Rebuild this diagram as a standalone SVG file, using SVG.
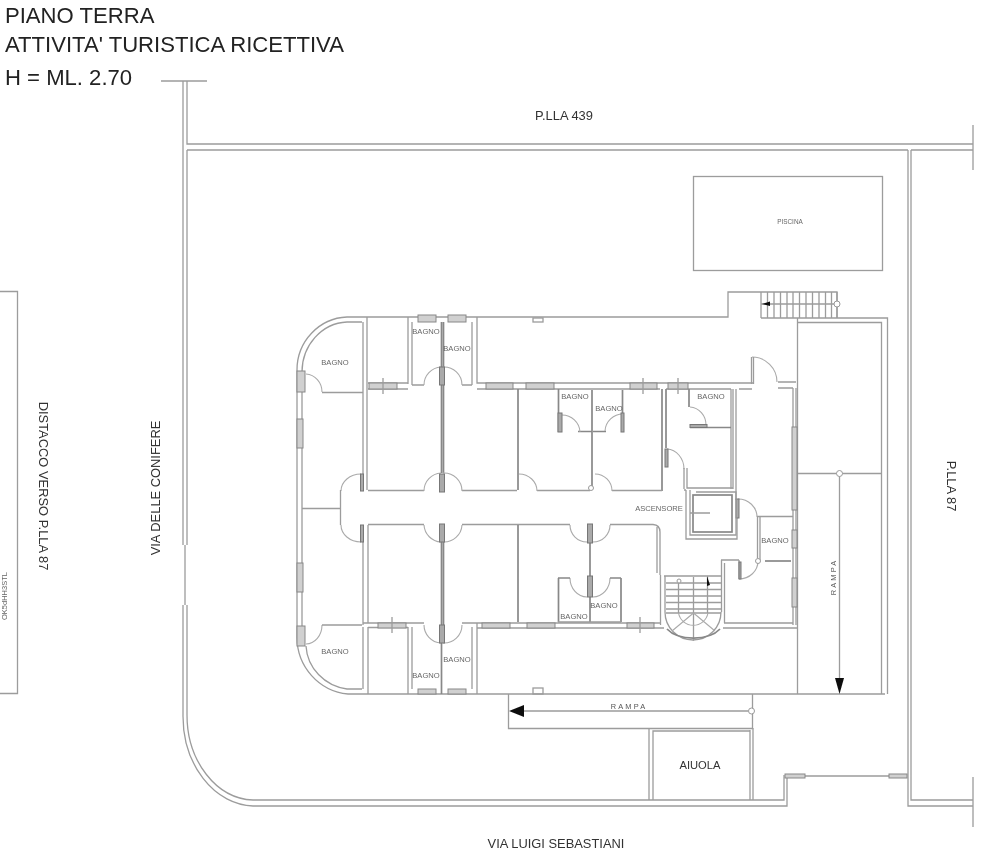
<svg xmlns="http://www.w3.org/2000/svg" width="1000" height="856" viewBox="0 0 1000 856">
<defs>
<filter id="soft" x="-2%" y="-2%" width="104%" height="104%"><feGaussianBlur stdDeviation="0.55"/></filter>
<filter id="softer" x="-2%" y="-2%" width="104%" height="104%"><feGaussianBlur stdDeviation="0.4"/></filter>
</defs>
<style>
text{font-family:"Liberation Sans",Arial,sans-serif;fill:#333}
.t{font-size:22.1px;fill:#222}
.l{font-size:12.9px;fill:#333}
.m{font-size:11.200px;fill:#333}
.s{font-size:7.6px;fill:#666}
.r{font-size:7.4px;fill:#555;letter-spacing:2.2px}
.w{fill:none;stroke:#9c9c9c;stroke-width:1.3}
.d{fill:none;stroke:#888;stroke-width:1.7}
.a{fill:none;stroke:#aaa;stroke-width:1.1}
.win{fill:#d0d0d0;stroke:#888;stroke-width:1}
.th{fill:#aaa;stroke:#777;stroke-width:1}
.c{fill:#fff;stroke:#999;stroke-width:1}
.k{fill:#111;stroke:none}
</style>
<rect width="1000" height="856" fill="#fff"/>
<g id="plan" filter="url(#soft)">
<g id="site">
<path class="w" d="M161 81H207M183 81V545M187 81V144H973M187 150V545M185 545V605M183 605V715A72 90 0 0 0 253 806H787V776H805M187 605V715A68 85 0 0 0 253 800H784V775"/>
<path class="w" d="M187 150H908M911 150H973M973 125V170M908 150V806H973M911 150V800H973M973 777V827M805 776H889"/>
<rect class="win" x="785" y="774" width="20" height="4"/>
<rect class="win" x="889" y="774" width="18" height="4"/>
<rect class="w" x="693.500" y="176.500" width="189" height="94"/>
<path class="w" d="M0 291.500H17.500V693.500H0"/>
</g>
<g id="ramps">
<path class="w" d="M478 694H885M508.500 694V728.500H752.500V694"/>
<path class="w" d="M512 711H748M649 800V729M653 800V731H750M750 730V800M753 728V800"/>
<path class="k" d="M509 711L524 705V717Z"/>
<circle class="c" cx="751.500" cy="711" r="3"/>
<path class="w" d="M797.500 318V694M797 473.500H881M839.500 476V680"/>
<path class="k" d="M839.500 694L835 678H844Z"/>
<circle class="c" cx="839.500" cy="473.500" r="3"/>
</g>
<g id="outer-walls">
<path class="w" d="M297 370A52 53 0 0 1 347 317H728V292H837V318M302 372A47 50 0 0 1 347 322H362"/>
<path class="w" d="M297 370V637M302 372V646M297 637A56 57 0 0 0 348 694H478M306 646A48 46 0 0 0 347 689H362"/>
<path class="w" d="M761 318H887.500V694M797 322.500H881.500V694M367 317V490M363 322V490M322 392.500H363M363 525V625M368 525V623M363 627V689M368 627V694"/>
<rect class="w" x="533" y="318" width="10" height="4"/>
<rect class="w" x="533" y="688" width="10" height="6"/>
</g>
<g id="top-rooms">
<path class="w" d="M408 317V384M412 322V385M368 383H408M368 389H408M472 322V385M477 317V383H753M412 385H424M462 385H472M477 389H660M666 389H691M691 389H731M731 389V489M733 389V489M736 389V500M739 389H752M778 388H793M778 382H796"/>
<path class="d" d="M441.500 322V473M443.500 322V473M518 389V490M558.500 389V432M592 390V490M622.500 390V431M662 389V491M666 389V448M689 389V407M690 427.500H731M578 431.500H592M593 431.500H606"/>
<path class="w" d="M368 490.500H424M462 490.500H517M537 490.500H590M612 490.500H662M687 468V488H733"/>
<path class="a" d="M424 385A18 18 0 0 1 441 367M443 367A18 18 0 0 1 462 385M306 374A17 18 0 0 1 322 392M562 415A18 18 0 0 1 580 432M623 414A18 18 0 0 0 605 431M690 407A17 18 0 0 1 706 425M667 449A18 20 0 0 1 684 469M752 357A25 25 0 0 1 777 382M424 491A18 18 0 0 1 441 473M443 473A18 18 0 0 1 462 491M361 474A20 17 0 0 0 341 491M519 474A18 17 0 0 1 537 491M595 474A17 17 0 0 1 612 491"/>
<path class="w" d="M751.500 357V384M753.500 357V384M684 468V489"/>
</g>
<g id="corridor">
<path class="w" d="M340.500 490V525M302 508.500H340M684 490H686M686 490V539H737V518"/>
<path class="a" d="M341 525A20 17 0 0 0 361 542M424 525A18 18 0 0 0 441 542M443 542A18 18 0 0 0 462 525M570 525A17 17 0 0 0 587 542M593 542A17 17 0 0 0 610 525M738 499A19 18 0 0 1 757 517M758 561A19 18 0 0 1 739 579M570 578A17 19 0 0 0 587 597M593 597A17 19 0 0 0 610 578M424 625A18 18 0 0 0 441 643M443 643A18 18 0 0 0 462 625M322 625A16 19 0 0 1 306 644"/>
</g>
<g id="lower-rooms">
<path class="w" d="M368 524.500H424M462 524.500H570M610 524.500H653Q660 525 660 532V575M657 527V573M368 627.500H408M363 623H424M462 623H660M408 627V694M412 627V689M472 627V689M477 623V694M322 625H362"/>
<path class="d" d="M441.500 542V694M443.500 542V625M518 525V622M590 543V622M558.500 578V622M621 578V622M558 578H570M610 578H621"/>
<path class="w" d="M558 622H621M477 628H664M723 628H797M724 623H793M721.500 560V612M724.500 563V623M721 560H739M739 560V579M757.500 517V558M760 517V560M757 516.500H793M793 388V625M796 388V625"/>
<path class="d" d="M765 561H791"/>
<circle class="c" cx="758" cy="561" r="2.500"/>
<circle class="c" cx="591" cy="488" r="2.500"/>
</g>
<g id="thick-doors">
<rect class="win" x="297" y="371" width="8" height="21"/>
<rect class="win" x="297" y="626" width="8" height="20"/>
<rect class="th" x="439.500" y="367" width="5" height="18"/>
<rect class="th" x="439.500" y="474" width="5" height="18"/>
<rect class="th" x="439.500" y="524" width="5" height="18"/>
<rect class="th" x="439.500" y="625" width="5" height="18"/>
<rect class="th" x="587.500" y="524" width="5" height="19"/>
<rect class="th" x="587.500" y="576" width="5" height="21"/>
<rect class="th" x="360.500" y="474" width="3" height="17"/>
<rect class="th" x="360.500" y="525" width="3" height="17"/>
<rect class="th" x="558" y="413" width="4" height="19"/>
<rect class="th" x="621" y="413" width="3" height="19"/>
<rect class="th" x="665" y="449" width="3" height="18"/>
<rect class="th" x="690" y="424.500" width="17" height="3"/>
<rect class="th" x="736" y="499" width="3" height="19"/>
<rect class="th" x="739" y="562" width="2" height="17"/>
</g>
<g id="windows">
<rect class="win" x="418" y="315" width="18" height="7"/>
<rect class="win" x="448" y="315" width="18" height="7"/>
<rect class="win" x="418" y="689" width="18" height="5"/>
<rect class="win" x="448" y="689" width="18" height="5"/>
<rect class="win" x="297" y="419" width="6" height="29"/>
<rect class="win" x="297" y="563" width="6" height="29"/>
<rect class="win" x="369" y="383" width="28" height="6"/>
<rect class="win" x="486" y="383" width="27" height="6"/>
<rect class="win" x="526" y="383" width="28" height="6"/>
<rect class="win" x="630" y="383" width="27" height="6"/>
<rect class="win" x="668" y="383" width="20" height="6"/>
<rect class="win" x="378" y="623" width="28" height="5"/>
<rect class="win" x="482" y="623" width="28" height="5"/>
<rect class="win" x="527" y="623" width="28" height="5"/>
<rect class="win" x="627" y="623" width="27" height="5"/>
<rect class="win" x="792" y="427" width="5" height="83"/>
<rect class="win" x="792" y="530" width="5" height="18"/>
<rect class="win" x="792" y="578" width="5" height="29"/>
<path class="w" d="M383 378V394M643 378V394M678 378V394M392 617V633M640 617V633"/>
</g>
<g id="lift">
<rect class="d" x="693" y="495" width="39" height="37" stroke-width="2"/>
<path class="w" d="M696 492H736V535H690V490M690 513H710"/>
</g>
<g id="stairs">
<path class="w" d="M660.500 575V625M665 576V612A28 28 0 0 0 721 612M664 576H722M666 583H721M666 589.500H721M666 596H721M666 602.500H721M666 609H721M666 613H721M678.500 581V613M707.500 577V613M693.500 577V641"/>
<path class="a" d="M678.500 613A15 15 0 0 0 708 613M693.500 613L672 631M693.500 613L715 631"/>
<path class="d" d="M667 629A30 17 0 0 0 720 629"/>
<circle class="c" cx="679" cy="581" r="2"/>
<path class="k" d="M707 576L710 585L707 586Z"/>
<path class="w" d="M761 292V318M767.500 292V318M774 292V318M780.500 292V318M787 292V318M793 292V318M799.500 292V318M806 292V318M812.500 292V318M819 292V318M825.500 292V318M831.500 292V318M837 292V318M761 304H837"/>
<path class="k" d="M762 304L770 301.500V306Z"/>
<circle class="c" cx="837" cy="304" r="3"/>
</g>
</g>
<g id="labels" filter="url(#softer)">
<text class="t" x="5" y="22.500">PIANO TERRA</text>
<text class="t" x="5" y="52">ATTIVITA' TURISTICA RICETTIVA</text>
<text class="t" x="5" y="85">H = ML. 2.70</text>
<text class="l" x="564" y="120" text-anchor="middle">P.LLA 439</text>
<text class="s" x="790" y="223.500" text-anchor="middle" style="font-size:6.4px">PISCINA</text>
<text class="l" transform="translate(160,488) rotate(-90)" text-anchor="middle">VIA DELLE CONIFERE</text>
<text class="l" transform="translate(39,486) rotate(90)" text-anchor="middle">DISTACCO VERSO P.LLA 87</text>
<text class="l" transform="translate(947,486) rotate(90)" text-anchor="middle">P.LLA 87</text>
<text class="l" x="556" y="848" text-anchor="middle">VIA LUIGI SEBASTIANI</text>
<text class="m" x="700" y="769" text-anchor="middle">AIUOLA</text>
<text class="s" transform="translate(7,620) rotate(-90)" style="font-size:7.5px">OK5dHH3STL</text>
<text class="s" x="335" y="365" text-anchor="middle">BAGNO</text>
<text class="s" x="426" y="333.500" text-anchor="middle">BAGNO</text>
<text class="s" x="457" y="351" text-anchor="middle">BAGNO</text>
<text class="s" x="575" y="399" text-anchor="middle">BAGNO</text>
<text class="s" x="609" y="411" text-anchor="middle">BAGNO</text>
<text class="s" x="711" y="399" text-anchor="middle">BAGNO</text>
<text class="s" x="659" y="511" text-anchor="middle">ASCENSORE</text>
<text class="s" x="775" y="543" text-anchor="middle">BAGNO</text>
<text class="s" x="604" y="608" text-anchor="middle">BAGNO</text>
<text class="s" x="574" y="618.500" text-anchor="middle">BAGNO</text>
<text class="s" x="335" y="654" text-anchor="middle">BAGNO</text>
<text class="s" x="457" y="662" text-anchor="middle">BAGNO</text>
<text class="s" x="426" y="677.500" text-anchor="middle">BAGNO</text>
<text class="r" x="629" y="708.500" text-anchor="middle">RAMPA</text>
<text class="r" transform="translate(836,577) rotate(-90)" text-anchor="middle">RAMPA</text>
</g>
</svg>
